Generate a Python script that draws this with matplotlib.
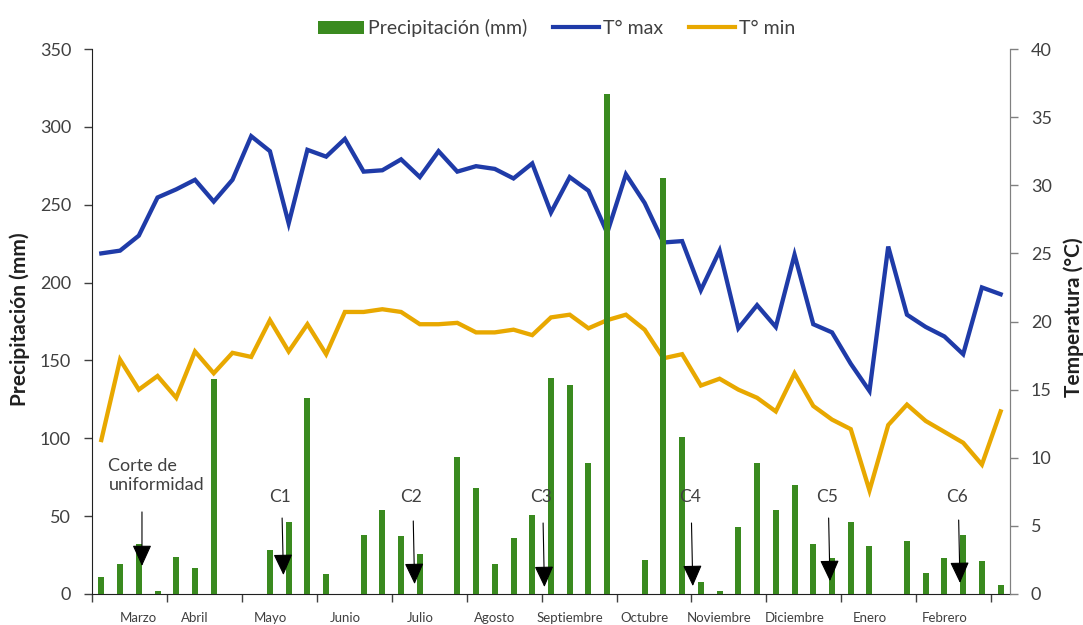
import matplotlib
matplotlib.use("Agg")
import matplotlib.pyplot as plt
from matplotlib.patches import Patch
from matplotlib.lines import Line2D
import numpy as np

plt.rcParams['font.family'] = ['Lato', 'DejaVu Sans']

# Weekly series (49 weeks, March to February)
precip_mm = [10.7, 19, 32, 2, 24, 17, 138, 0, 0, 28.5,
             46, 126, 13, 0, 38, 54, 37, 26, 0, 88,
             68, 19.5, 36, 51, 139, 134, 84, 321, 0, 22,
             267, 101, 8, 2, 43, 84, 54, 70, 32, 23,
             46.5, 31, 0, 34, 13.5, 23, 38, 21.5, 5.7]
t_max = [25.0, 25.2, 26.3, 29.1, 29.7, 30.4, 28.8, 30.4, 33.6, 32.5,
         27.2, 32.6, 32.1, 33.4, 31.0, 31.1, 31.9, 30.6, 32.5, 31.0,
         31.4, 31.2, 30.5, 31.6, 28.0, 30.6, 29.6, 26.5, 30.8, 28.7,
         25.8, 25.9, 22.3, 25.2, 19.5, 21.2, 19.6, 24.9, 19.8, 19.2,
         16.9, 14.9, 25.5, 20.5, 19.6, 18.9, 17.6, 22.5, 22.0]
t_min = [11.3, 17.2, 15.0, 16.0, 14.4, 17.8, 16.2, 17.7, 17.4, 20.1,
         17.8, 19.8, 17.6, 20.7, 20.7, 20.9, 20.7, 19.8, 19.8, 19.9,
         19.2, 19.2, 19.4, 19.0, 20.3, 20.5, 19.5, 20.1, 20.5, 19.4,
         17.3, 17.6, 15.3, 15.8, 15.0, 14.4, 13.4, 16.2, 13.8, 12.8,
         12.1, 7.6, 12.4, 13.9, 12.7, 11.9, 11.1, 9.5, 13.4]

# Month labels and the week they are written under
months = ["Marzo", "Abril", "Mayo", "Junio", "Julio", "Agosto", "Septiembre",
          "Octubre", "Noviembre", "Diciembre", "Enero", "Febrero"]
month_weeks = [2, 5, 9, 13, 17, 21, 25, 29, 33, 37, 41, 45]

# Cut events: label, week position of the arrow, arrow top / tip (mm)
cut_labels = ["C1", "C2", "C3", "C4", "C5", "C6"]
cut_weeks = [9.65, 16.65, 23.58, 31.5, 38.82, 45.76]
cut_top_mm = [48.8, 46.9, 45.6, 45.6, 48.8, 47.5]
cut_tip_mm = [12.2, 6.4, 4.5, 5.1, 8.3, 7.1]

GREEN = "#3A8A1F"
BLUE = "#1F3BA8"
ORANGE = "#E8A800"
TXT = "#404040"

weeks = np.arange(len(precip_mm))

fig = plt.figure(figsize=(10.83, 6.25), dpi=100)
ax_t = fig.add_axes([0.0849, 0.0496, 0.8477, 0.872])
ax_p = ax_t.twinx()

# Temperature lines (right axis)
ax_t.plot(weeks, t_max, color=BLUE, lw=3.1, solid_joinstyle='miter', zorder=2)
ax_t.plot(weeks, t_min, color=ORANGE, lw=3.1, solid_joinstyle='miter', zorder=2)

# Precipitation bars (left axis), drawn above the lines
ax_p.bar(weeks, precip_mm, width=0.32, color=GREEN, zorder=2)

# Put precipitation axis on the left, temperature on the right
ax_p.yaxis.tick_left()
ax_p.yaxis.set_label_position("left")
ax_t.yaxis.tick_right()
ax_t.yaxis.set_label_position("right")
ax_p.set_zorder(ax_t.get_zorder() + 1)
ax_p.patch.set_visible(False)

ax_p.set_ylim(0, 350)
ax_p.set_yticks(np.arange(0, 351, 50))
ax_t.set_ylim(0, 40)
ax_t.set_yticks(np.arange(0, 41, 5))
ax_t.set_xlim(-0.5, len(weeks) - 0.5)

# x axis: tick marks every 4 weeks, month names as unmarked minor ticks
ax_t.set_xticks(np.arange(-0.5, len(weeks) - 1, 4))
ax_t.set_xticklabels([])
ax_t.set_xticks(month_weeks, minor=True)
ax_t.set_xticklabels(months, minor=True, fontsize=9.5, color=TXT)
ax_t.tick_params(axis='x', which='minor', length=0, pad=13)
ax_t.tick_params(axis='x', which='major', length=6, width=1, color='#404040', direction='out')

ax_p.tick_params(axis='y', length=6, width=1, pad=9, labelsize=13, labelcolor=TXT, color='#404040')
ax_t.tick_params(axis='y', length=6, width=1, pad=9, labelsize=13, labelcolor=TXT, color='#808080')

for a in (ax_t, ax_p):
    a.spines['top'].set_visible(False)
ax_p.spines['left'].set_color('#202020')
ax_t.spines['bottom'].set_color('#202020')
ax_p.spines['right'].set_color('#808080')
ax_t.spines['right'].set_color('#808080')
ax_t.spines['left'].set_visible(False)
ax_p.spines['bottom'].set_visible(False)

ax_p.set_ylabel("Precipitación (mm)", fontsize=15, fontweight='bold', color='#202020')
ax_p.yaxis.set_label_coords(-0.0675, 0.505)
ax_t.set_ylabel("Temperatura (°C)", fontsize=15, fontweight='bold', color='#202020')
ax_t.yaxis.set_label_coords(1.0585, 0.507)

# Cut annotations
arrow_props = dict(arrowstyle='-|>,head_length=1.1,head_width=0.5', mutation_scale=12,
                   lw=0.8, color='black', shrinkA=0, shrinkB=0)
for lab, xw, top, tip in zip(cut_labels, cut_weeks, cut_top_mm, cut_tip_mm):
    ax_p.annotate('', xy=(xw + 0.07, tip), xytext=(xw, top), arrowprops=arrow_props, zorder=5)
    ax_p.text(xw - 0.1, 62.5, lab, ha='center', va='center', fontsize=12.5, color=TXT, zorder=5)

ax_p.annotate('', xy=(2.17, 18.0), xytext=(2.17, 52.7), arrowprops=arrow_props, zorder=5)
ax_p.text(0.38, 76, "Corte de\nuniformidad", ha='left', va='center', fontsize=13,
          color=TXT, linespacing=1.25, zorder=5)

# Legend across the top
handles = [Patch(facecolor=GREEN, edgecolor='none'),
           Line2D([], [], color=BLUE, lw=3),
           Line2D([], [], color=ORANGE, lw=3)]
fig.legend(handles, ["Precipitación (mm)", "T° max", "T° min"], loc='center',
           bbox_to_anchor=(0.514, 0.955), ncol=3, frameon=False, fontsize=14,
           handlelength=2.4, handletextpad=0.2, columnspacing=1.3, labelcolor=TXT)

fig.savefig("out.png", dpi=100)
